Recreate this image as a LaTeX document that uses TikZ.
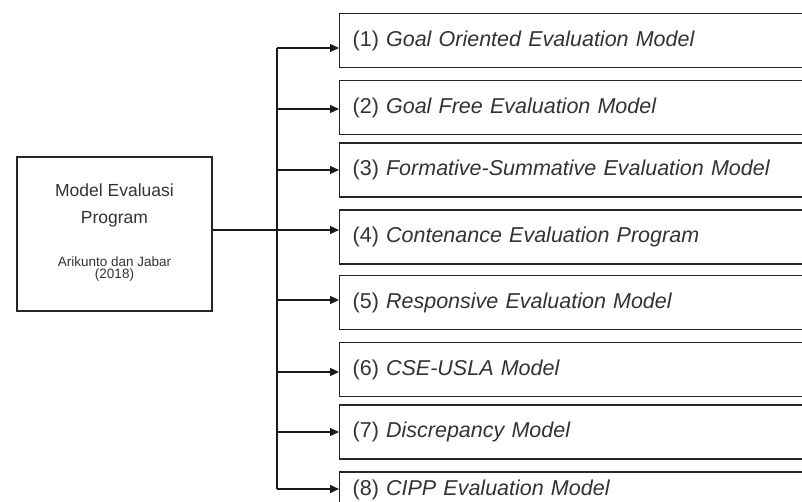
\documentclass[tikz,border=0pt]{standalone}
\usepackage{fontspec}
\setmainfont{Liberation Sans}
\usetikzlibrary{arrows.meta}

\tikzset{
    mbox/.style={draw=black!85, line width=1.3bp, text=black!80},
    itembox/.style={mbox, anchor=west, minimum height=54bp, text width=470bp,
        inner xsep=13bp, align=left, font=\fontsize{21.5bp}{25bp}\selectfont},
    link/.style={draw=black!90, line width=1.3bp},
    arrowlink/.style={link, -{Triangle[length=9bp,width=8bp]}}
}
\newcommand{\smalltxt}{\fontsize{13.5bp}{14bp}\selectfont}

\begin{document}
\begin{tikzpicture}[x=1bp, y=-1bp]
    \useasboundingbox (0,0) rectangle (802,502);
    \clip (0,0) rectangle (802,502);
    \fill[white] (0,0) rectangle (802,502);

    % Root box
    \node[mbox, minimum width=195bp, minimum height=154bp, align=center,
        text depth=6bp, font=\fontsize{17.5bp}{27bp}\selectfont] (root) at (114.5,234)
        {Model Evaluasi\\ Program\\[16bp]
        \smalltxt Arikunto dan Jabar\\[-14.5bp]
        \smalltxt (2018)};

    % Evaluation models
    \foreach \i/\by/\bh/\ay/\txt in {
        1/40.5/54/48/{(1) \textit{Goal Oriented Evaluation Model}},
        2/107.5/54/109/{(2) \textit{Goal Free Evaluation Model}},
        3/170/54/170/{(3) \textit{Formative-Summative Evaluation Model}},
        4/237/54/230/{(4) \textit{Contenance Evaluation Program}},
        5/302.5/54/300/{(5) \textit{Responsive Evaluation Model}},
        6/369.5/54/372/{(6) \textit{CSE-USLA Model}},
        7/432/54/432/{(7) \textit{Discrepancy Model}},
        8/490/36/489/{(8) \textit{CIPP Evaluation Model}}} {
        \node[itembox, minimum height=\bh bp] (m\i) at (339,\by) {\txt};
        \coordinate (j\i) at (277,\ay);
        \draw[arrowlink] (j\i) -- (j\i -| m\i.west);
    }

    % Trunk
    \draw[link] (j1) -- (j8);
    \draw[link] (root.east |- j4) -- (j4);
\end{tikzpicture}
\end{document}
